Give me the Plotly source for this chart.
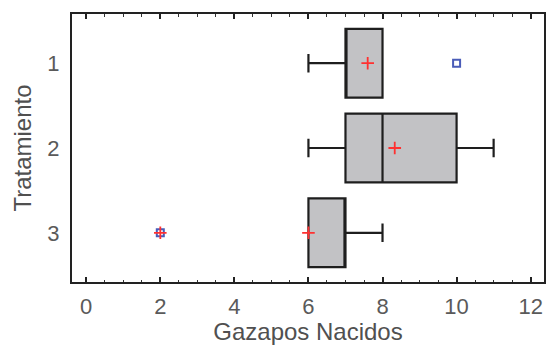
import plotly.graph_objects as go

# Data
treatments = [1, 2, 3]
q1 = [7, 7, 6]
median = [7, 8, 7]
q3 = [8, 10, 7]
lower_fence = [6, 6, 6]
upper_fence = [8, 11, 8]
means = [7.6, 8.33, 6.0]
outlier_x = [10, 2]
outlier_y = [1, 3]
far_outlier_x = [2]
far_outlier_y = [3]

x_title = "Gazapos Nacidos"
y_title = "Tratamiento"

fig = go.Figure()

fig.add_trace(go.Box(
    y=treatments, q1=q1, median=median, q3=q3,
    lowerfence=lower_fence, upperfence=upper_fence,
    orientation="h", boxpoints=False, width=0.81, whiskerwidth=0.27,
    fillcolor="#c2c2c5", line=dict(color="#1e1e1e", width=2.2),
    showlegend=False, hoverinfo="skip",
))

fig.add_trace(go.Scatter(
    x=outlier_x, y=outlier_y, mode="markers",
    marker=dict(symbol="square-open", size=7, color="#4a5cb8", line=dict(width=2, color="#4a5cb8")),
    showlegend=False,
))

fig.add_trace(go.Scatter(
    x=means + far_outlier_x, y=treatments + far_outlier_y, mode="markers",
    marker=dict(symbol="cross-thin", size=9, color="#ff3030", line=dict(width=1.8, color="#ff3030")),
    showlegend=False,
))

tickfont = dict(family="Liberation Sans, Arial, sans-serif", size=22, color="#5a5a5a")
titlefont = dict(family="Liberation Sans, Arial, sans-serif", size=24, color="#505050")

fig.update_layout(
    width=547, height=345,
    margin=dict(l=72, r=1, t=14, b=63),
    paper_bgcolor="white", plot_bgcolor="white",
    xaxis=dict(
        range=[-0.384, 12.36], tick0=0, dtick=2,
        ticks="inside", ticklen=5, tickwidth=1.5, tickcolor="#222",
        minor=dict(dtick=0.5, ticks="inside", ticklen=2.5, tickwidth=1.2, tickcolor="#333"),
        showline=True, linecolor="#222", linewidth=2, mirror="ticks",
        showgrid=False, zeroline=False,
        tickfont=tickfont, ticklabelstandoff=4,
        title=dict(text=x_title, font=titlefont, standoff=4),
    ),
    yaxis=dict(
        range=[3.58, 0.42], tickvals=treatments, ticktext=[str(t) for t in treatments],
        ticks="", showline=True, linecolor="#222", linewidth=2, mirror=True,
        showgrid=False, zeroline=False,
        tickfont=tickfont, ticklabelstandoff=6,
        title=dict(text=y_title, font=titlefont, standoff=9),
    ),
)

fig.write_html("out.html")
